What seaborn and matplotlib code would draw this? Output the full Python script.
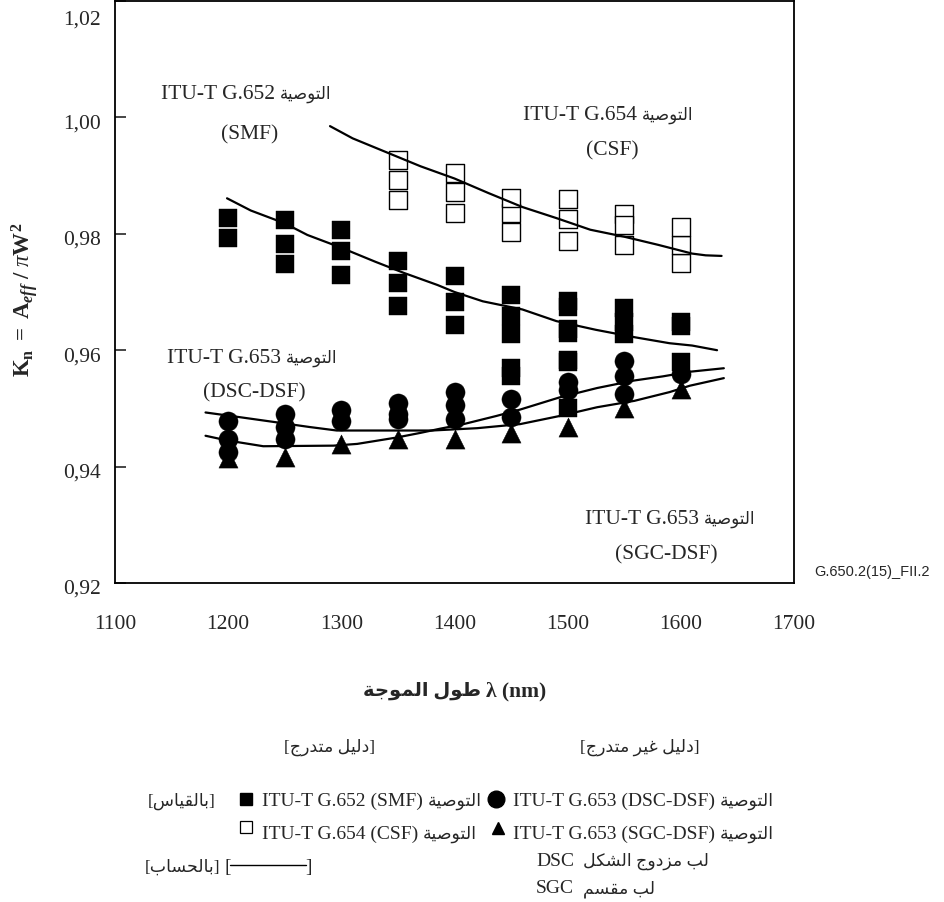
import matplotlib
matplotlib.use("Agg")
import matplotlib.pyplot as plt
from matplotlib.lines import Line2D
from matplotlib.transforms import ScaledTranslation
import seaborn as sns

# ---------------------------------------------------------------- data
x_ticks = [1100, 1200, 1300, 1400, 1500, 1600, 1700]
y_ticks = [0.92, 0.94, 0.96, 0.98, 1.00, 1.02]
y_tick_labels = ["0,92", "0,94", "0,96", "0,98", "1,00", "1,02"]

# measured, ITU-T G.652 (SMF) - filled squares
smf_wavelength = [1200, 1200,
                  1250, 1250, 1250,
                  1300, 1300, 1300,
                  1350, 1350, 1350,
                  1400, 1400, 1400,
                  1450, 1450, 1450, 1450, 1450,
                  1500, 1500, 1500, 1500, 1500, 1500, 1500,
                  1550, 1550, 1550,
                  1600, 1600, 1600]
smf_kn = [0.9827, 0.9792,
          0.9824, 0.9782, 0.9748,
          0.9807, 0.9771, 0.9729,
          0.9754, 0.9716, 0.9676,
          0.9727, 0.9683, 0.9644,
          0.9694, 0.9659, 0.9627, 0.9570, 0.9555,
          0.9684, 0.9675, 0.9637, 0.9630, 0.9584, 0.9579, 0.9500,
          0.9672, 0.9649, 0.9627,
          0.9648, 0.9642, 0.9579]

# measured, ITU-T G.654 (CSF) - open squares
csf_wavelength = [1350, 1350, 1350,
                  1400, 1400, 1400,
                  1450, 1450, 1450,
                  1500, 1500, 1500,
                  1550, 1550, 1550,
                  1600, 1600, 1600]
csf_kn = [0.9858, 0.9893, 0.9926,
          0.9836, 0.9872, 0.9905,
          0.9803, 0.9836, 0.9861,
          0.9787, 0.9826, 0.9859,
          0.9780, 0.9834, 0.9815,
          0.9750, 0.9781, 0.9812]

# measured, ITU-T G.653 (DSC-DSF) - filled circles
dsc_wavelength = [1200, 1200, 1200,
                  1250, 1250, 1250,
                  1300, 1300,
                  1350, 1350, 1350,
                  1400, 1400, 1400,
                  1450, 1450,
                  1500, 1500,
                  1550, 1550, 1550,
                  1600]
dsc_kn = [0.9479, 0.9447, 0.9425,
          0.9490, 0.9468, 0.9447,
          0.9498, 0.9479,
          0.9510, 0.9490, 0.9481,
          0.9529, 0.9505, 0.9482,
          0.9517, 0.9486,
          0.9546, 0.9532,
          0.9581, 0.9556, 0.9524,
          0.9559]

# measured, ITU-T G.653 (SGC-DSF) - filled triangles
sgc_wavelength = [1200, 1250, 1300, 1350, 1400, 1450, 1500, 1550, 1600]
sgc_kn = [0.9414, 0.9416, 0.9439, 0.9447, 0.9447, 0.9458, 0.9468, 0.9500, 0.9533]

# calculated curves
calc_smf_wavelength = [1199, 1220, 1250, 1270, 1300, 1330, 1355, 1385, 1400,
                       1425, 1460, 1490, 1525, 1560, 1590, 1610, 1632]
calc_smf_kn = [0.9861, 0.9840, 0.9818, 0.9798, 0.9776, 0.9752, 0.9733, 0.9712,
               0.9700, 0.9684, 0.9670, 0.9650, 0.9635, 0.9622, 0.9612, 0.9608,
               0.9600]

calc_csf_wavelength = [1290, 1310, 1340, 1370, 1400, 1430, 1460, 1490, 1520,
                       1550, 1580, 1610, 1622, 1636]
calc_csf_kn = [0.9985, 0.9964, 0.9940, 0.9916, 0.9895, 0.9870, 0.9846, 0.9827,
               0.9807, 0.9795, 0.9781, 0.9766, 0.9763, 0.9762]

calc_dsf_a_wavelength = [1180, 1210, 1243, 1272, 1296, 1340, 1380, 1420, 1458,
                         1493, 1526, 1559, 1590, 1608, 1638]
calc_dsf_a_kn = [0.9493, 0.9485, 0.9476, 0.9468, 0.9462, 0.9462, 0.9462, 0.9466,
                 0.9473, 0.9487, 0.9502, 0.9513, 0.9528, 0.9539, 0.9552]

calc_dsf_b_wavelength = [1180, 1199, 1231, 1293, 1314, 1349, 1370, 1387, 1408,
                         1437, 1458, 1493, 1526, 1559, 1584, 1608, 1638]
calc_dsf_b_kn = [0.9453, 0.9445, 0.9435, 0.9436, 0.9439, 0.9450, 0.9458, 0.9465,
                 0.9473, 0.9487, 0.9498, 0.9519, 0.9535, 0.9548, 0.9555, 0.9563,
                 0.9569]

# ---------------------------------------------------------------- Arabic shaping
# isolated, final, initial, medial presentation forms
FORMS = {
    "ا": ("\uFE8D", "\uFE8E", None, None),
    "ب": ("\uFE8F", "\uFE90", "\uFE91", "\uFE92"),
    "ة": ("\uFE93", "\uFE94", None, None),
    "ت": ("\uFE95", "\uFE96", "\uFE97", "\uFE98"),
    "ج": ("\uFE9D", "\uFE9E", "\uFE9F", "\uFEA0"),
    "ح": ("\uFEA1", "\uFEA2", "\uFEA3", "\uFEA4"),
    "د": ("\uFEA9", "\uFEAA", None, None),
    "ر": ("\uFEAD", "\uFEAE", None, None),
    "ز": ("\uFEAF", "\uFEB0", None, None),
    "س": ("\uFEB1", "\uFEB2", "\uFEB3", "\uFEB4"),
    "ش": ("\uFEB5", "\uFEB6", "\uFEB7", "\uFEB8"),
    "ص": ("\uFEB9", "\uFEBA", "\uFEBB", "\uFEBC"),
    "ط": ("\uFEC1", "\uFEC2", "\uFEC3", "\uFEC4"),
    "غ": ("\uFECD", "\uFECE", "\uFECF", "\uFED0"),
    "ق": ("\uFED5", "\uFED6", "\uFED7", "\uFED8"),
    "ك": ("\uFED9", "\uFEDA", "\uFEDB", "\uFEDC"),
    "ل": ("\uFEDD", "\uFEDE", "\uFEDF", "\uFEE0"),
    "م": ("\uFEE1", "\uFEE2", "\uFEE3", "\uFEE4"),
    "و": ("\uFEED", "\uFEEE", None, None),
    "ي": ("\uFEF1", "\uFEF2", "\uFEF3", "\uFEF4"),
}


def ar(text):
    """Join Arabic letters and return them in left-to-right display order."""
    out = []
    for i, ch in enumerate(text):
        if ch not in FORMS:
            out.append(ch)
            continue
        prev = text[i - 1] if i > 0 else ""
        nxt = text[i + 1] if i + 1 < len(text) else ""
        joins_prev = prev in FORMS and FORMS[prev][2] is not None
        joins_next = nxt in FORMS and FORMS[ch][2] is not None
        if joins_prev and joins_next:
            out.append(FORMS[ch][3])
        elif joins_prev:
            out.append(FORMS[ch][1])
        elif joins_next:
            out.append(FORMS[ch][2])
        else:
            out.append(FORMS[ch][0])
    return "".join(reversed(out))


REC = ar("التوصية")

# ---------------------------------------------------------------- style
sns.set_style("white")
SERIF = ["Liberation Serif", "DejaVu Sans"]
plt.rcParams["font.family"] = SERIF
plt.rcParams["mathtext.fontset"] = "custom"
plt.rcParams["mathtext.rm"] = "Liberation Serif"
plt.rcParams["mathtext.it"] = "Liberation Serif:italic"
plt.rcParams["mathtext.bf"] = "Liberation Serif:bold"
plt.rcParams["mathtext.bfit"] = "Liberation Serif:italic:bold"

W, H = 944, 903
fig = plt.figure(figsize=(W / 100, H / 100), dpi=100)
ax = fig.add_axes([115 / W, 1 - 584 / H, (794 - 115) / W, (584 - 2) / H])
renderer = fig.canvas.get_renderer()


def fx(px):
    return px / W


def fy(py):
    return 1 - py / H


def mixed(x, y, pieces, ha="center", gap=5, weight="normal"):
    """Lay out text runs side by side on one baseline (pixel coords from top-left)."""
    texts = [fig.text(0, 0, s, fontsize=fs, ha="left", va="baseline",
                      family=SERIF, fontweight=weight) for s, fs in pieces]
    widths = [t.get_window_extent(renderer).width for t in texts]
    total = sum(widths) + gap * (len(texts) - 1)
    cur = {"left": x, "center": x - total / 2, "right": x - total}[ha]
    for t, w in zip(texts, widths):
        t.set_position((fx(cur), fy(y)))
        cur += w + gap
    return texts


# calculated curves
for wl, kn in [(calc_smf_wavelength, calc_smf_kn),
               (calc_csf_wavelength, calc_csf_kn),
               (calc_dsf_a_wavelength, calc_dsf_a_kn),
               (calc_dsf_b_wavelength, calc_dsf_b_kn)]:
    sns.lineplot(x=wl, y=kn, sort=False, estimator=None, color="black",
                 linewidth=1.6, ax=ax, zorder=4)

# measured points
sns.scatterplot(x=csf_wavelength, y=csf_kn, marker="s", s=180, color="white",
                edgecolor="black", linewidth=1.0, ax=ax, zorder=3)
sns.scatterplot(x=smf_wavelength, y=smf_kn, marker="s", s=175, color="black",
                edgecolor="black", linewidth=0.3, ax=ax, zorder=3)
sns.scatterplot(x=dsc_wavelength, y=dsc_kn, marker="o", s=190, color="black",
                edgecolor="black", linewidth=0.3, ax=ax, zorder=3)
sns.scatterplot(x=sgc_wavelength, y=sgc_kn, marker="^", s=190, color="black",
                edgecolor="black", linewidth=0.3, ax=ax, zorder=3)

ax.set_xlim(1100, 1700)
ax.set_ylim(0.92, 1.02)
ax.set_xticks(x_ticks)
ax.set_xticklabels([str(t) for t in x_ticks])
ax.set_yticks(y_ticks)
ax.set_yticklabels(y_tick_labels)
ax.tick_params(axis="y", direction="in", length=8, width=1.2, pad=10,
               labelsize=15.5, left=True)
ax.tick_params(axis="x", length=0, pad=22, labelsize=15.5)
for lab, val in zip(ax.get_yticklabels(), y_ticks):
    shift = -16 if val > 1.01 else -3
    lab.set_transform(lab.get_transform()
                      + ScaledTranslation(0, shift / 100, fig.dpi_scale_trans))
for sp in ax.spines.values():
    sp.set_linewidth(1.3)
    sp.set_color("black")
ax.set_xlabel("")
ax.set_ylabel("")

# curve annotations (baseline positions in pixels)
FS = 15.5
FA = 12
mixed(246, 99, [("ITU-T G.652", FS), (REC, FA)])
mixed(250, 139, [("(SMF)", FS)])
mixed(608, 120, [("ITU-T G.654", FS), (REC, FA)])
mixed(612, 155, [("(CSF)", FS)])
mixed(252, 363, [("ITU-T G.653", FS), (REC, FA)])
mixed(254, 397, [("(DSC-DSF)", FS)])
mixed(670, 524, [("ITU-T G.653", FS), (REC, FA)])
mixed(666, 559, [("(SGC-DSF)", FS)])

fig.text(fx(872), fy(572), "G.650.2(15)_FII.2", fontsize=10.5,
         family=["Liberation Sans", "DejaVu Sans"], ha="center", va="center")

# axis titles
fig.text(fx(24), fy(300),
         r"$\mathbf{K}_{\mathbf{n}}\mathbf{\ =\ A}_{\mathbfit{eff}}\mathbf{\ /\ }"
         r"\pi\mathbf{W}^{\mathbf{2}}$",
         rotation=90, fontsize=16.5, ha="center", va="center")
mixed(455, 696, [(ar("طول الموجة"), 14), ("λ (nm)", 15.5)], weight="bold")

# key
FK = 14
FKA = 12.5
mixed(330, 752, [("[" + ar("دليل متدرج") + "]", FKA)])
mixed(640, 752, [("[" + ar("دليل غير متدرج") + "]", FKA)])

mixed(182, 806, [("[" + ar("بالقياس") + "]", FKA)])
mixed(262, 806, [("ITU-T G.652 (SMF)", FK), (REC, FKA)], ha="left")
mixed(262, 839, [("ITU-T G.654 (CSF)", FK), (REC, FKA)], ha="left")
mixed(513, 806, [("ITU-T G.653 (DSC-DSF)", FK), (REC, FKA)], ha="left")
mixed(513, 839, [("ITU-T G.653 (SGC-DSF)", FK), (REC, FKA)], ha="left")

fig.add_artist(Line2D([fx(246)], [fy(800)], marker="s", ms=8, color="black",
                      transform=fig.transFigure))
fig.add_artist(Line2D([fx(246)], [fy(828)], marker="s", ms=8, mfc="white",
                      mec="black", mew=0.9, color="black",
                      transform=fig.transFigure))
fig.add_artist(Line2D([fx(496)], [fy(800)], marker="o", ms=12, color="black",
                      transform=fig.transFigure))
fig.add_artist(Line2D([fx(498)], [fy(829)], marker="^", ms=9, color="black",
                      transform=fig.transFigure))

mixed(182, 872, [("[" + ar("بالحساب") + "]", FKA)])
mixed(228, 872, [("[", FK)])
mixed(309, 872, [("]", FK)])
fig.add_artist(Line2D([fx(230), fx(306)], [fy(866), fy(866)], color="black",
                      linewidth=1.0, transform=fig.transFigure))
mixed(536, 866, [("DSC", FK), (ar("لب مزدوج الشكل"), FKA)], ha="left", gap=9)
mixed(536, 893, [("SGC", FK), (ar("لب مقسم"), FKA)], ha="left", gap=9)

fig.savefig("out.png", dpi=100, facecolor="white")
